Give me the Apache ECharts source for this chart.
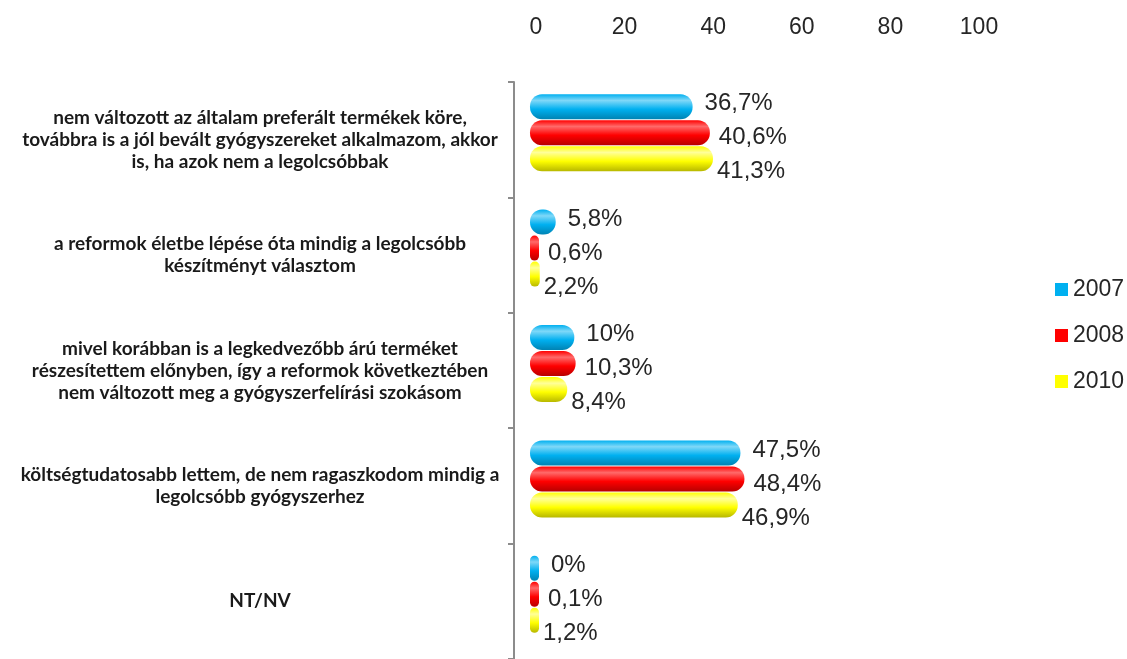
<!DOCTYPE html>
<html>
<head>
<meta charset="utf-8">
<script src="https://cdn.jsdelivr.net/npm/echarts@6/dist/echarts.min.js"></script>
<style>
  html, body { margin: 0; padding: 0; background: #fff; }
  #chart { width: 1127px; height: 659px; }
</style>
</head>
<body>
<div id="chart"></div>
<script>
// 类别 (从上到下)
const categories = [
	"nem változott az általam preferált termékek köre,\ntovábbra is a jól bevált gyógyszereket alkalmazom, akkor\nis, ha azok nem a legolcsóbbak",
	"a reformok életbe lépése óta mindig a legolcsóbb\nkészítményt választom",
	"mivel korábban is a legkedvezőbb árú terméket\nrészesítettem előnyben, így a reformok következtében\nnem változott meg a gyógyszerfelírási szokásom",
	"költségtudatosabb lettem, de nem ragaszkodom mindig a\nlegolcsóbb gyógyszerhez",
	"NT/NV",
];

// 各年份数据 (%)
const data2007 = [36.7, 5.8, 10, 47.5, 0];
const data2008 = [40.6, 0.6, 10.3, 48.4, 0.1];
const data2010 = [41.3, 2.2, 8.4, 46.9, 1.2];

const years = ["2007", "2008", "2010"];
const xTicks = [0, 20, 40, 60, 80, 100];

const font = "Liberation Sans";
const catFont = "Lato";

// 圆柱效果渐变
const cyl = (light, mid, dark) => ({
	type: "linear",
	x: 0,
	y: 0,
	x2: 0,
	y2: 1,
	colorStops: [
		{ offset: 0, color: mid },
		{ offset: 0.25, color: light },
		{ offset: 0.6, color: mid },
		{ offset: 1, color: dark },
	],
});

const baseColors = ["#00B0F0", "#FF0000", "#FFFF00"];
const fills = [
	cyl("#7fd8f8", "#00B0F0", "#0083b3"),
	cyl("#ff6a6a", "#FF0000", "#b80000"),
	cyl("#ffff9a", "#FFFF00", "#b8b800"),
];
const labelOffsets = [[0, -3], [0, 5], [0, 13]];
const labelDist = [12, 9, 4];

const makeSeries = (name, values, i) => ({
	name,
	type: "bar",
	xAxisIndex: 0,
	yAxisIndex: 0,
	data: values,
	barWidth: 25,
	barGap: "4%",
	barMinHeight: 9,
	itemStyle: {
		color: fills[i],
		borderRadius: 12,
	},
	label: {
		show: true,
		position: "right",
		distance: labelDist[i],
		offset: labelOffsets[i],
		formatter: (p) => String(p.value).replace(".", ",") + "%",
		fontFamily: font,
		fontSize: 24,
		color: "#262626",
	},
});

const myChart = echarts.init(document.querySelector("#chart"));

myChart.setOption({
	animation: false,
	grid: [
		// 柱子
		{ left: 530, width: 443, top: 75, height: 577 },
		// 类别轴
		{ left: 514, width: 460, top: 82, height: 577 },
	],
	legend: {
		orient: "vertical",
		left: 1050,
		top: 273,
		itemWidth: 13,
		itemHeight: 13,
		itemGap: 23,
		icon: "rect",
		textStyle: { fontFamily: font, fontSize: 23, color: "#262626" },
		data: years.map((y, i) => ({ name: y, itemStyle: { color: baseColors[i] } })),
	},
	xAxis: [
		{
			gridIndex: 0,
			type: "value",
			position: "top",
			min: xTicks[0],
			max: xTicks[xTicks.length - 1],
			interval: 20,
			axisLine: { show: false },
			axisTick: { show: false },
			splitLine: { show: false },
			axisLabel: {
				margin: 36,
				padding: [0, 0, 0, 12],
				fontFamily: font,
				fontSize: 23,
				color: "#262626",
			},
		},
		{ gridIndex: 1, type: "value", show: false },
	],
	yAxis: [
		{ gridIndex: 0, type: "category", inverse: true, data: categories, show: false },
		{
			gridIndex: 1,
			type: "category",
			inverse: true,
			data: categories,
			axisLine: { show: true, lineStyle: { color: "#8c8c8c", width: 2 } },
			axisTick: { show: true, length: 6, lineStyle: { color: "#8c8c8c", width: 2 } },
			axisLabel: {
				align: "center",
				margin: 254,
				fontFamily: catFont,
				fontSize: 19,
				fontWeight: "bold",
				lineHeight: 22,
				padding: [0, 0, 8, 0],
				color: "#1a1a1a",
			},
		},
	],
	series: [
		makeSeries(years[0], data2007, 0),
		makeSeries(years[1], data2008, 1),
		makeSeries(years[2], data2010, 2),
	],
});
</script>
</body>
</html>
